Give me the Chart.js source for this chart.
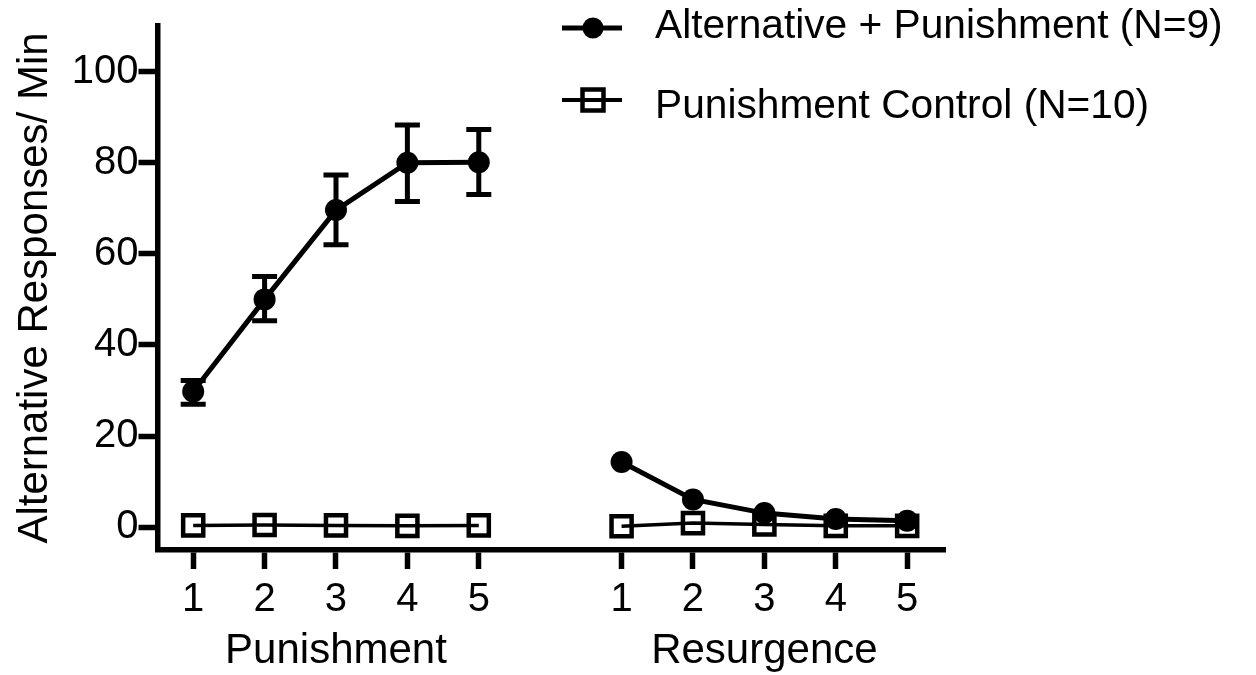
<!DOCTYPE html>
<html>
<head>
<meta charset="utf-8">
<script src="https://cdn.jsdelivr.net/npm/chart.js@4.4.1/dist/chart.umd.min.js"></script>
<style>
  html, body { margin: 0; background: #fff; }
  #wrap { width: 1256px; height: 675px; }
</style>
</head>
<body>
<div id="wrap"><canvas id="chart"></canvas></div>
<script>
'use strict';

// data
const phases = ['Punishment', 'Resurgence'];
const sessions = [1, 2, 3, 4, 5];
const altPunish = [29.8, 50.0, 69.6, 80.0, 80.1];
const altPunishErrLow = [27.0, 45.3, 62.0, 71.5, 73.0];
const altPunishErrHigh = [32.2, 55.0, 77.3, 88.3, 87.3];
const altResurg = [14.3, 6.1, 3.1, 1.8, 1.4];
const ctrlPunish = [0.4, 0.5, 0.4, 0.3, 0.4];
const ctrlResurg = [0.2, 0.9, 0.6, 0.3, 0.3];
const yTicks = [0, 20, 40, 60, 80, 100];
const legendLabels = ['Alternative + Punishment (N=9)', 'Punishment Control (N=10)'];

const FONT = "'Liberation Sans', Arial, Helvetica, sans-serif";

// each phase takes 6 slots on the x axis: 5 sessions and a gap
function xPos(phaseIdx, session) {
  return phaseIdx * 6 + session;
}

function buildPoints(perPhase) {
  const pts = [];
  perPhase.forEach((vals, p) => {
    sessions.forEach((s, i) => pts.push({ x: xPos(p, s), y: vals[i] }));
    if (p < perPhase.length - 1) pts.push({ x: xPos(p, 6), y: null });
  });
  return pts;
}

const xTickVals = [];
phases.forEach((ph, p) => sessions.forEach(s => xTickVals.push(xPos(p, s))));

// error bars for the punishment phase of the first group
const errorBars = {
  id: 'errorBars',
  afterDatasetsDraw(chart) {
    const ctx = chart.ctx;
    const xs = chart.scales.x, ys = chart.scales.y;
    ctx.save();
    ctx.strokeStyle = '#000';
    ctx.lineWidth = 5;
    ctx.lineCap = 'butt';
    sessions.forEach((s, i) => {
      const x = xs.getPixelForValue(xPos(0, s));
      const lo = ys.getPixelForValue(altPunishErrLow[i]);
      const hi = ys.getPixelForValue(altPunishErrHigh[i]);
      ctx.beginPath();
      ctx.moveTo(x, lo); ctx.lineTo(x, hi);
      ctx.moveTo(x - 12.5, lo); ctx.lineTo(x + 12.5, lo);
      ctx.moveTo(x - 12.5, hi); ctx.lineTo(x + 12.5, hi);
      ctx.stroke();
    });
    ctx.restore();
  }
};

// phase names under the session numbers
const phaseLabels = {
  id: 'phaseLabels',
  afterDraw(chart) {
    const ctx = chart.ctx;
    const xs = chart.scales.x;
    ctx.save();
    ctx.fillStyle = '#000';
    ctx.font = '42px ' + FONT;
    ctx.textAlign = 'center';
    ctx.textBaseline = 'alphabetic';
    phases.forEach((ph, p) => {
      ctx.fillText(ph, xs.getPixelForValue(xPos(p, 3)), 663);
    });
    ctx.restore();
  }
};

// legend in the top right corner, line + marker + label
const lineLegend = {
  id: 'lineLegend',
  afterDraw(chart) {
    const ctx = chart.ctx;
    const markY = [28, 100];
    const textBase = [38, 118];
    ctx.save();
    ctx.strokeStyle = '#000';
    ctx.fillStyle = '#000';
    markY.forEach((y, i) => {
      ctx.lineWidth = i === 0 ? 5 : 4;
      ctx.beginPath();
      ctx.moveTo(562, y); ctx.lineTo(622, y);
      ctx.stroke();
      if (i === 0) {
        ctx.beginPath();
        ctx.arc(593, y, 10.5, 0, Math.PI * 2);
        ctx.fill();
      } else {
        ctx.lineWidth = 4.5;
        ctx.strokeRect(593 - 10.5, y - 10.5, 21, 21);
      }
      ctx.font = '40.7px ' + FONT;
      ctx.textAlign = 'left';
      ctx.textBaseline = 'alphabetic';
      ctx.fillText(legendLabels[i], 655, textBase[i]);
    });
    ctx.restore();
  }
};

new Chart(document.getElementById('chart').getContext('2d'), {
  type: 'line',
  data: {
    datasets: [{
      label: legendLabels[0],
      data: buildPoints([altPunish, altResurg]),
      borderColor: '#000',
      backgroundColor: '#000',
      borderWidth: 5,
      pointStyle: 'circle',
      pointRadius: 11,
      pointBackgroundColor: '#000',
      pointBorderWidth: 0,
      spanGaps: false,
      tension: 0
    }, {
      label: legendLabels[1],
      data: buildPoints([ctrlPunish, ctrlResurg]),
      borderColor: '#000',
      borderWidth: 3.5,
      pointStyle: 'rect',
      pointRadius: 14.2,
      pointBackgroundColor: 'rgba(0,0,0,0)',
      pointBorderColor: '#000',
      pointBorderWidth: 4.5,
      spanGaps: false,
      tension: 0
    }]
  },
  options: {
    responsive: true,
    maintainAspectRatio: false,
    animation: false,
    layout: { padding: { top: 26, right: 311, bottom: 0, left: 0 } },
    plugins: {
      legend: { display: false },
      tooltip: { enabled: false }
    },
    scales: {
      x: {
        type: 'linear',
        min: 0.5,
        max: 11.53,
        afterBuildTicks: s => { s.ticks = xTickVals.map(v => ({ value: v })); },
        afterFit: s => { s.height = 125; },
        grid: { drawOnChartArea: false, drawTicks: true, tickLength: 19, tickWidth: 5.5, tickColor: '#000' },
        border: { display: true, width: 5.5, color: '#000' },
        ticks: {
          color: '#000',
          font: { size: 40, family: FONT },
          padding: 7,
          autoSkip: false,
          maxRotation: 0,
          callback: v => String(((v - 1) % 6) + 1)
        }
      },
      y: {
        min: -5,
        max: 110,
        afterBuildTicks: s => { s.ticks = yTicks.map(v => ({ value: v })); },
        afterFit: s => { s.width = 157.5; },
        grid: { drawOnChartArea: false, drawTicks: true, tickLength: 19, tickWidth: 5.5, tickColor: '#000' },
        border: { display: true, width: 5.5, color: '#000' },
        ticks: { color: '#000', font: { size: 40, family: FONT }, padding: 0 },
        title: {
          display: true,
          text: 'Alternative Responses/ Min',
          color: '#000',
          font: { size: 42, family: FONT },
          padding: { top: 10, bottom: 0 }
        }
      }
    }
  },
  plugins: [errorBars, phaseLabels, lineLegend]
});
</script>
</body>
</html>
